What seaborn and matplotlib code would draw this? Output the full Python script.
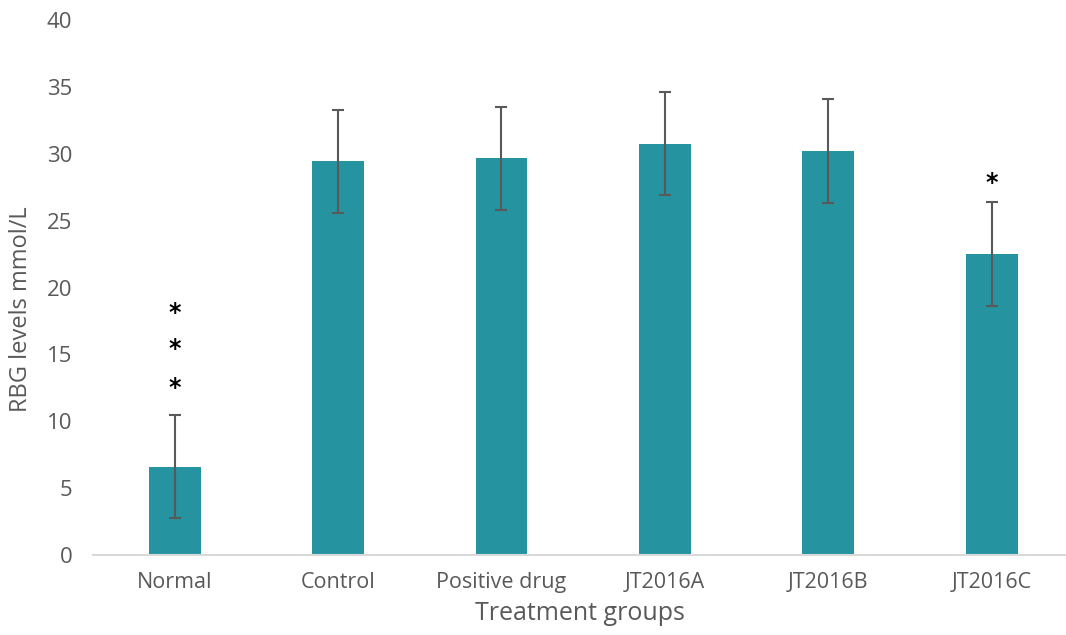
import matplotlib
matplotlib.use("Agg")
import matplotlib.pyplot as plt
import seaborn as sns
import pandas as pd

# Random blood glucose by treatment group (mean ± SD)
groups = ["Normal", "Control", "Positive drug", "JT2016A", "JT2016B", "JT2016C"]
means = [6.6, 29.45, 29.65, 30.75, 30.2, 22.5]
errors = [3.85, 3.85, 3.85, 3.87, 3.87, 3.87]
# significance marks: (group index, y position, label)
stars = [(0, 18.1, "*"), (0, 15.4, "*"), (0, 12.5, "*"), (5, 27.8, "*")]

BAR = "#2593A0"
GREY = "#595959"

sns.set_theme(style="white")
plt.rcParams["font.family"] = ["Open Sans", "DejaVu Sans"]

fig = plt.figure(figsize=(10.66, 6.35), dpi=100)
ax = fig.add_axes([93 / 1066, 1 - 555 / 635, 1 - 93 / 1066, (555 - 20) / 635])

df = pd.DataFrame({"group": groups, "value": means})
sns.barplot(data=df, x="group", y="value", color=BAR, width=0.318,
            saturation=1, errorbar=None, linewidth=0, ax=ax)
ax.errorbar(range(len(groups)), means, yerr=errors, fmt="none",
            ecolor=GREY, elinewidth=1.5, capsize=4.5, capthick=1.5, zorder=3)

for i, y, s in stars:
    ax.text(i, y, s, ha="center", va="center", fontsize=17,
            color="black", fontfamily="DejaVu Sans", fontweight="bold")

ax.set_ylim(0, 40)
ax.set_xlim(-0.5, 5.455)
ax.set_yticks(range(0, 41, 5))
ax.tick_params(axis="y", length=0, pad=15, labelsize=16, labelcolor=GREY)
ax.tick_params(axis="x", length=0, pad=12, labelsize=15.5, labelcolor=GREY)

for side in ("top", "right", "left"):
    ax.spines[side].set_visible(False)
ax.spines["bottom"].set_color("#D9D9D9")
ax.spines["bottom"].set_linewidth(1.5)

ax.set_xlabel("Treatment groups", fontsize=18, color=GREY, labelpad=6)
ax.set_ylabel("RBG levels mmol/L", fontsize=17, color=GREY, labelpad=8)
ax.yaxis.set_label_coords(-0.062, 0.46)

fig.savefig("out.png", dpi=100)
